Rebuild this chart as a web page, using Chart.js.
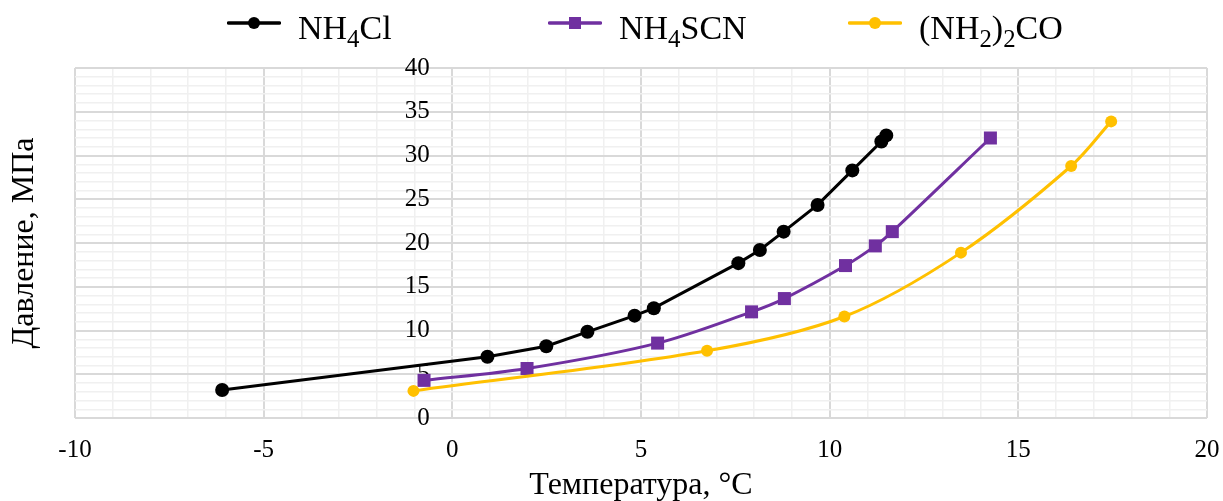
<!DOCTYPE html>
<html>
<head>
<meta charset="utf-8">
<script src="https://cdn.jsdelivr.net/npm/chart.js@4.4.0/dist/chart.umd.min.js"></script>
<style>
  html, body { margin: 0; padding: 0; background: #fff; }
  #wrap { position: relative; width: 1223px; height: 501px; }
  #c { position: absolute; left: 0; top: 0; }
  .lg-mark { position: absolute; top: 17px; }
  .lg-text { position: absolute; top: 10.5px; font-family: "Liberation Serif", "Times New Roman", serif;
             font-size: 34px; line-height: 34px; color: #000; white-space: nowrap; }
  .lg-text .sub { font-size: 0.73em; vertical-align: -8px; line-height: 0; }
</style>
</head>
<body>
<div id="wrap">
  <canvas id="c" width="1223" height="501"></canvas>
  <div id="legend"></div>
</div>
<script>
// ---- data ----
const seriesNames = ['NH4Cl', 'NH4SCN', '(NH2)2CO'];

const nh4clT = [-6.1, 0.93, 2.49, 3.58, 4.83, 5.34, 7.58, 8.15, 8.78, 9.68, 10.6, 11.37, 11.5];
const nh4clP = [3.2, 7.0, 8.2, 9.85, 11.7, 12.55, 17.7, 19.2, 21.3, 24.35, 28.3, 31.6, 32.3];

const nh4scnT = [-0.75, 1.98, 5.44, 7.93, 8.8, 10.42, 11.21, 11.66, 14.26];
const nh4scnP = [4.3, 5.66, 8.56, 12.13, 13.65, 17.42, 19.67, 21.3, 32.0];

const ureaT = [-1.03, 6.75, 10.39, 13.48, 16.4, 17.46];
const ureaP = [3.1, 7.68, 11.6, 18.9, 28.8, 33.9];

const xMin = -10, xMax = 20, xMajor = 5;
const yMin = 0, yMax = 40, yMajor = 5;
const xTitle = 'Температура, °C';
const yTitle = 'Давление, МПа';

// ---- helpers ----
const toPoints = (xs, ys) => xs.map((x, i) => ({ x: x, y: ys[i] }));
const subDigits = s => s.replace(/[0-9]/g, d => String.fromCharCode(0x2080 + Number(d)));
const subHtml = s => s.replace(/([0-9])/g, '<span class="sub">$1</span>');

const FONT = '"Liberation Serif", "Times New Roman", serif';
const MAJOR = '#d9d9d9', MINOR = '#f0f0f0';
const colors = ['#000000', '#7030a0', '#ffc000'];
const styles = ['circle', 'rect', 'circle'];

const isMajor = (v, step) => Math.abs(v % step) < 1e-9;
const gridColor = step => c => (c.tick && isMajor(c.tick.value, step)) ? MAJOR : MINOR;
const gridWidth = step => c => (c.tick && isMajor(c.tick.value, step)) ? 2 : 1.5;
const tickLabel = step => v => isMajor(v, step) ? String(v) : '';

const chart = new Chart(document.getElementById('c'), {
  type: 'scatter',
  data: {
    datasets: [
      { label: subDigits(seriesNames[0]), data: toPoints(nh4clT, nh4clP), showLine: true,
        borderColor: colors[0], backgroundColor: colors[0], borderWidth: 3,
        pointStyle: styles[0], pointRadius: 7, pointBorderWidth: 0, tension: 0, order: 3 },
      { label: subDigits(seriesNames[1]), data: toPoints(nh4scnT, nh4scnP), showLine: true,
        borderColor: colors[1], backgroundColor: colors[1], borderWidth: 3,
        pointStyle: styles[1], pointRadius: 9.2, pointBorderWidth: 0, tension: 0.33, order: 2 },
      { label: subDigits(seriesNames[2]), data: toPoints(ureaT, ureaP), showLine: true,
        borderColor: colors[2], backgroundColor: colors[2], borderWidth: 3,
        pointStyle: styles[2], pointRadius: 6, pointBorderWidth: 0, tension: 0.33, order: 1 }
    ]
  },
  options: {
    responsive: false,
    animation: false,
    layout: { padding: { top: 68, right: 16, bottom: 0, left: 0 } },
    plugins: { legend: { display: false }, tooltip: { enabled: false } },
    scales: {
      x: {
        type: 'linear', min: xMin, max: xMax,
        afterFit: s => { s.paddingRight = 0; },
        ticks: { stepSize: 1, autoSkip: false, maxRotation: 0, padding: 17,
                 font: { family: FONT, size: 25 }, color: '#000', callback: tickLabel(xMajor) },
        grid: { color: gridColor(xMajor), lineWidth: gridWidth(xMajor), drawTicks: false },
        border: { display: false },
        title: { display: true, text: xTitle, color: '#000',
                 font: { family: FONT, size: 32, lineHeight: 1 }, padding: { top: -12, bottom: -1 } }
      },
      y: {
        type: 'linear', min: yMin, max: yMax, position: { x: -0.6 },
        ticks: { stepSize: 1, autoSkip: false, padding: 0,
                 font: { family: FONT, size: 25 }, color: '#000', callback: tickLabel(yMajor) },
        grid: { color: gridColor(yMajor), lineWidth: gridWidth(yMajor), drawTicks: false },
        border: { display: false }
      },
      yT: {
        type: 'linear', position: 'left', display: true,
        ticks: { display: false },
        grid: { display: false, drawTicks: false },
        border: { display: false },
        title: { display: true, text: yTitle, color: '#000',
                 font: { family: FONT, size: 32, lineHeight: 1 }, padding: { top: 9, bottom: 34 } }
      }
    }
  }
});

// ---- HTML legend (line + marker, with real subscripts) ----
const legendLeft = [227, 548, 848];
const legendEl = document.getElementById('legend');
chart.data.datasets.forEach((ds, i) => {
  const c = colors[i];
  const marker = styles[i] === 'rect'
    ? `<rect x="21" y="0" width="12" height="12" fill="${c}"/>`
    : `<circle cx="27" cy="6" r="6" fill="${c}"/>`;
  const svg = document.createElementNS('http://www.w3.org/2000/svg', 'svg');
  svg.setAttribute('class', 'lg-mark');
  svg.setAttribute('width', '54');
  svg.setAttribute('height', '12');
  svg.style.left = legendLeft[i] + 'px';
  svg.innerHTML = `<line x1="1.5" y1="6" x2="52.5" y2="6" stroke="${c}" stroke-width="3.5" stroke-linecap="round"/>` + marker;
  legendEl.appendChild(svg);
  const t = document.createElement('div');
  t.className = 'lg-text';
  t.style.left = (legendLeft[i] + 71) + 'px';
  t.innerHTML = subHtml(seriesNames[i]);
  legendEl.appendChild(t);
});
</script>
</body>
</html>
